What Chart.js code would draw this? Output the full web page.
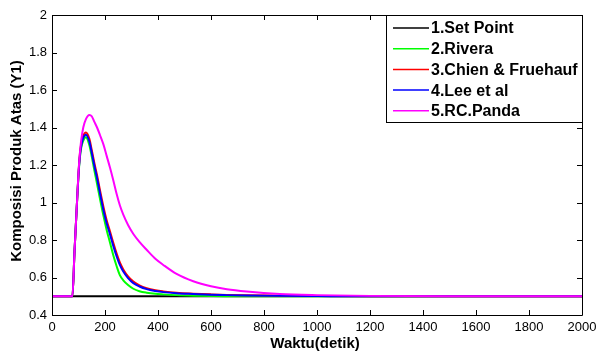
<!DOCTYPE html>
<html>
<head>
<meta charset="utf-8">
<script src="https://cdn.jsdelivr.net/npm/chart.js@4/dist/chart.umd.min.js"></script>
<style>
html,body{margin:0;padding:0;background:#fff;}
#wrap{width:598px;height:351px;position:relative;}
</style>
</head>
<body>
<div id="wrap"><canvas id="c" width="598" height="351"></canvas></div>
<script>
// Time axis (detik)
const times = [0, 77, 85, 95, 100, 105, 110, 118, 128, 141, 150, 160, 170, 181, 194, 206, 219, 231, 244, 256, 269, 287, 307, 330, 357, 390, 420, 470, 533, 600, 660, 735, 860, 1000, 1200, 1500, 2000];

const setPoint = [0.5, 0.5, 0.5, 0.5, 0.5, 0.5, 0.5, 0.5, 0.5, 0.5, 0.5, 0.5, 0.5, 0.5, 0.5, 0.5, 0.5, 0.5, 0.5, 0.5, 0.5, 0.5, 0.5, 0.5, 0.5, 0.5, 0.5, 0.5, 0.5, 0.5, 0.5, 0.5, 0.5, 0.5, 0.5, 0.5, 0.5];

const rivera = [0.5, 0.5, 0.74, 1.02, 1.145, 1.235, 1.29, 1.33, 1.348, 1.305, 1.245, 1.17, 1.10, 1.02, 0.93, 0.855, 0.785, 0.72, 0.66, 0.613, 0.585, 0.56, 0.54, 0.527, 0.519, 0.513, 0.51, 0.506, 0.503, 0.501, 0.5, 0.5, 0.5, 0.5, 0.5, 0.5, 0.5];

const chien = [0.5, 0.5, 0.74, 1.02, 1.155, 1.255, 1.31, 1.355, 1.373, 1.34, 1.28, 1.21, 1.145, 1.066, 0.978, 0.907, 0.845, 0.786, 0.727, 0.68, 0.643, 0.606, 0.578, 0.558, 0.543, 0.532, 0.526, 0.519, 0.514, 0.51, 0.507, 0.505, 0.503, 0.501, 0.5, 0.5, 0.5];

const lee = [0.5, 0.5, 0.74, 1.02, 1.15, 1.245, 1.30, 1.345, 1.362, 1.325, 1.265, 1.195, 1.13, 1.05, 0.96, 0.89, 0.83, 0.77, 0.712, 0.667, 0.632, 0.597, 0.57, 0.552, 0.538, 0.528, 0.522, 0.516, 0.512, 0.508, 0.506, 0.504, 0.502, 0.501, 0.5, 0.5, 0.5];

const panda = [0.5, 0.5, 0.74, 1.02, 1.16, 1.26, 1.33, 1.40, 1.445, 1.467, 1.46, 1.43, 1.40, 1.36, 1.31, 1.25, 1.185, 1.12, 1.045, 0.985, 0.935, 0.88, 0.832, 0.79, 0.748, 0.70, 0.667, 0.619, 0.58, 0.553, 0.537, 0.525, 0.512, 0.506, 0.502, 0.5, 0.5];

const seriesLabels = ['1.Set Point', '2.Rivera', '3.Chien & Fruehauf', '4.Lee et al', '5.RC.Panda'];
const seriesColors = ['#000000', '#00ff00', '#ff0000', '#0000ff', '#ff00ff'];
const seriesValues = [setPoint, rivera, chien, lee, panda];

const xTicks = [0, 200, 400, 600, 800, 1000, 1200, 1400, 1600, 1800, 2000];
const yTicks = [0.4, 0.6, 0.8, 1, 1.2, 1.4, 1.6, 1.8, 2];

const xTitle = 'Waktu(detik)';
const yTitle = 'Komposisi Produk Atas (Y1)';

function pts(vals){ return times.map((t,i)=>({x:t, y:vals[i]})); }

const datasets = seriesValues.map((v,i)=>({
  label: seriesLabels[i],
  data: pts(v),
  borderColor: seriesColors[i],
  backgroundColor: seriesColors[i],
  borderWidth: 2,
  pointRadius: 0,
  fill: false,
  cubicInterpolationMode: 'monotone',
  order: 10 - i
}));

const framePlugin = {
  id: 'frame',
  afterDatasetsDraw(chart){
    const ctx = chart.ctx, a = chart.chartArea;
    const xs = chart.scales.x, ys = chart.scales.y;
    ctx.save();
    ctx.strokeStyle = '#000';
    ctx.lineWidth = 1;
    ctx.beginPath();
    ctx.rect(Math.round(a.left)+0.5, Math.round(a.top)+0.5, Math.round(a.right-a.left), Math.round(a.bottom-a.top));
    ctx.stroke();
    const L = 5;
    ctx.beginPath();
    xTicks.forEach(v=>{
      const px = Math.round(xs.getPixelForValue(v))+0.5;
      ctx.moveTo(px, a.bottom); ctx.lineTo(px, a.bottom-L);
      ctx.moveTo(px, a.top); ctx.lineTo(px, a.top+L);
    });
    yTicks.forEach(v=>{
      const py = Math.round(ys.getPixelForValue(v))+0.5;
      ctx.moveTo(a.left, py); ctx.lineTo(a.left+L, py);
      ctx.moveTo(a.right, py); ctx.lineTo(a.right-L, py);
    });
    ctx.stroke();

    // axis titles
    ctx.fillStyle = '#000';
    ctx.font = 'bold 15px "Liberation Sans", Arial, sans-serif';
    ctx.textAlign = 'center';
    ctx.textBaseline = 'middle';
    ctx.fillText(xTitle, (a.left+a.right)/2 - 2, 344);
    ctx.save();
    ctx.translate(17, 161);
    ctx.rotate(-Math.PI/2);
    ctx.fillText(yTitle, 0, 0);
    ctx.restore();

    // legend box
    const bx = 386.5, by = Math.round(a.top) + 0.5, bw = Math.round(a.right) - 386, bh = 107;
    ctx.fillStyle = '#fff';
    ctx.fillRect(bx, by, bw, bh);
    ctx.strokeStyle = '#000';
    ctx.lineWidth = 1;
    ctx.strokeRect(bx, by, bw, bh);
    ctx.font = 'bold 16px "Liberation Sans", Arial, sans-serif';
    ctx.textAlign = 'left';
    ctx.textBaseline = 'middle';
    chart.data.datasets.forEach((ds,i)=>{
      const yy = 28 + i*20.7;
      ctx.strokeStyle = ds.borderColor;
      ctx.lineWidth = 1.5;
      ctx.beginPath();
      ctx.moveTo(393, yy); ctx.lineTo(429, yy);
      ctx.stroke();
      ctx.fillStyle = '#000';
      ctx.fillText(ds.label, 431, yy+1);
    });
    ctx.restore();
  }
};

new Chart(document.getElementById('c'), {
  type: 'line',
  data: { datasets },
  options: {
    responsive: false,
    animation: false,
    maintainAspectRatio: false,
    layout: { padding: { left: 0, right: 16, top: 15, bottom: 0 } },
    plugins: { legend: { display: false }, tooltip: { enabled: false } },
    scales: {
      x: {
        type: 'linear', min: 0, max: 2000,
        afterBuildTicks(s){ s.ticks = xTicks.map(v=>({value:v})); },
        afterFit(s){ s.height = 36; s.paddingLeft = 0; s.paddingRight = 0; },
        grid: { display: false, drawTicks: false },
        border: { display: false },
        ticks: { color: '#000', padding: 5, maxRotation: 0, autoSkip: false,
          font: { family: '"Liberation Sans", Arial, sans-serif', size: 13 },
          callback: v => String(v) }
      },
      y: {
        type: 'linear', min: 0.4, max: 2,
        afterBuildTicks(s){ s.ticks = yTicks.map(v=>({value:v})); },
        afterFit(s){ s.width = 52; s.paddingTop = 0; s.paddingBottom = 0; },
        grid: { display: false, drawTicks: false },
        border: { display: false },
        ticks: { color: '#000', padding: 5, autoSkip: false,
          font: { family: '"Liberation Sans", Arial, sans-serif', size: 13 },
          callback: v => String(Math.round(v*10)/10) }
      }
    }
  },
  plugins: [framePlugin]
});
</script>
</body>
</html>
